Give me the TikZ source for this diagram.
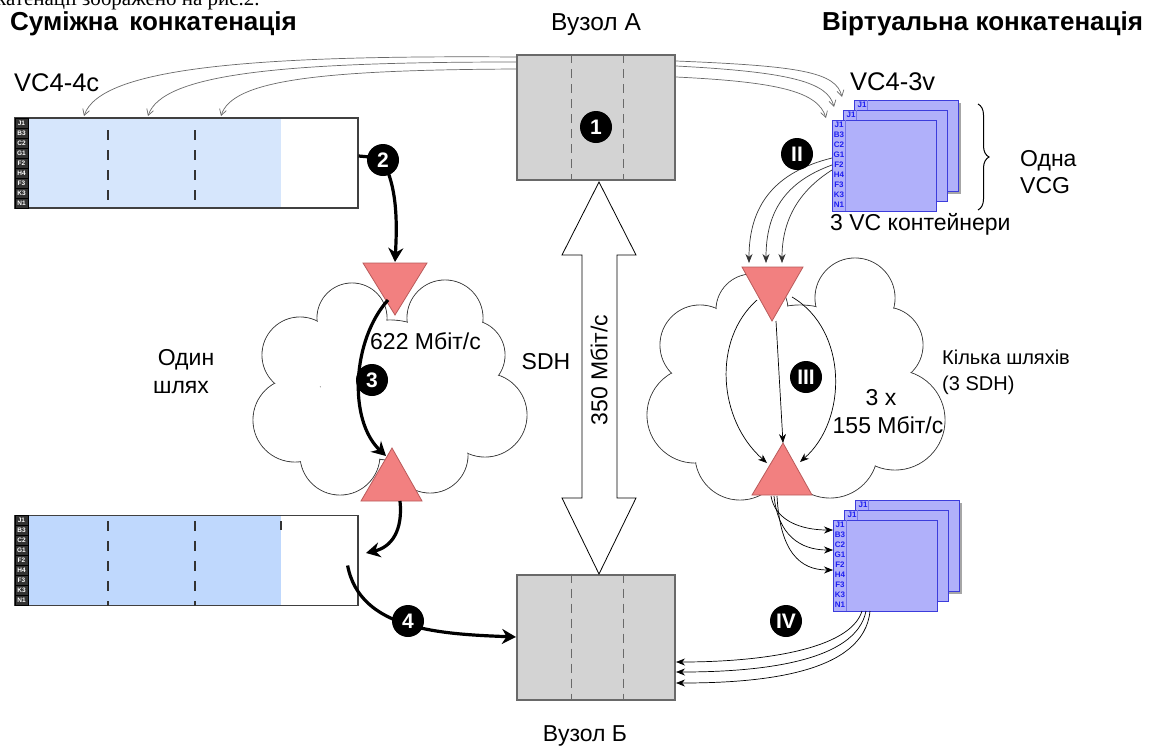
\documentclass[tikz,border=0pt]{standalone}
\usepackage{fontspec}
\setmainfont{Liberation Sans}
\newfontfamily\serifcut{Liberation Serif}
\usetikzlibrary{arrows.meta,decorations.pathreplacing,calc}

\definecolor{boxgray}{RGB}{211,211,211}
\definecolor{boxedge}{RGB}{105,105,105}
\definecolor{blueA}{RGB}{214,230,252}
\definecolor{blueB}{RGB}{191,216,253}
\definecolor{vcfill}{RGB}{176,176,250}
\definecolor{vcedge}{RGB}{60,60,220}
\definecolor{vctext}{RGB}{30,30,240}
\definecolor{tri}{RGB}{242,128,128}
\definecolor{triedge}{RGB}{185,90,90}
\definecolor{arrowgray}{RGB}{105,105,105}

\newcommand\vcstack[2]{%
 \begin{scope}[shift={(#1,#2)}]
  \fill[black!35] (25,-17) rectangle (129,74);
  \draw[vcedge,fill=vcfill,line width=0.8pt] (22,-20) rectangle (126,71);
  \draw[vcedge!70,line width=0.5pt] (35,-20) -- (35,71);
  \node[inner sep=0pt,text=vctext,font=\fontsize{8}{8}\selectfont\bfseries] at (30,-15) {J1};
  \draw[vcedge,fill=vcfill,line width=0.8pt] (11,-10) rectangle (115,81);
  \draw[vcedge!70,line width=0.5pt] (24,-10) -- (24,81);
  \node[inner sep=0pt,text=vctext,font=\fontsize{8}{8}\selectfont\bfseries] at (19,-5) {J1};
  \draw[vcedge,fill=vcfill,line width=0.8pt] (0,0) rectangle (104,91);
  \draw[vcedge!70,line width=0.5pt] (13,0) -- (13,91);
  \foreach \t [count=\i from 0] in {J1,B3,C2,G1,F2,H4,F3,K3,N1}
   {\node[inner sep=0pt,text=vctext,font=\fontsize{8}{8}\selectfont\bfseries] at (7,5+10*\i) {\t};}
 \end{scope}}

\newcommand\labelcol[2]{%
 \begin{scope}[shift={(#1,#2)}]
  \foreach \t [count=\i from 0] in {J1,B3,C2,G1,F2,H4,F3,K3,N1}
   {\draw[black,fill=black!80,line width=0.4pt] (0,10*\i) rectangle (13,10*\i+10);
    \node[inner sep=0pt,text=white,font=\fontsize{6.5}{6.5}\selectfont\bfseries] at (6.5,10*\i+5) {\t};}
 \end{scope}}

\begin{document}
\begin{tikzpicture}[x=1pt,y=-1pt,
  lbl/.style={inner sep=0pt, font=\fontsize{23}{26}\selectfont},
  biglbl/.style={inner sep=0pt, font=\fontsize{25.5}{28}\selectfont},
  smalllbl/.style={inner sep=0pt, font=\fontsize{20}{23}\selectfont},
  ttl/.style={inner sep=0pt, font=\fontsize{26}{29}\selectfont\bfseries},
  num/.style={circle, fill=black, text=white, inner sep=0pt, minimum size=32pt, font=\fontsize{21}{21}\selectfont\bfseries},
  nodebox/.style={draw=boxedge, fill=boxgray, line width=2pt, minimum width=158pt, minimum height=125pt, inner sep=0pt},
  sepline/.style={boxedge, line width=1pt, dash pattern=on 9pt off 6pt},
  blk/.style={draw=black!75, line width=1.2pt, minimum width=343pt, minimum height=90pt, inner sep=0pt},
  grayarrow/.style={arrowgray, line width=0.7pt, -{Straight Barb[length=6pt,width=7pt]}},
  blackarrow/.style={black, line width=0.8pt, -{Stealth[length=9pt,width=7pt]}},
  heavy/.style={black, line width=3.2pt, -{Stealth[length=14pt,width=15pt]}},
  cloudline/.style={draw=black!75, line width=0.9pt},
  tristyle/.style={fill=tri, draw=triedge, line width=0.8pt}
]
\useasboundingbox (0,0) rectangle (1150,747);
\fill[white] (0,0) rectangle (1150,747);

% cut-off text at top
\node[anchor=base west, inner sep=0pt, font=\serifcut\fontsize{21}{24}\selectfont] (cut) at (-4,5) {катенації зображено на рис.2.};

% titles
\node[ttl, anchor=base west] (tl) at (10,30) {Суміжна\hspace{4pt} конкатенація};
\node[ttl, anchor=base west] (tr) at (822,30) {Віртуальна конкатенація};
\node[lbl, anchor=base, font=\fontsize{24.5}{27}\selectfont] (la) at (596,30) {Вузол А};
\node[lbl, anchor=base] (lb) at (585,741) {Вузол Б};

% clouds
\def\leftcloud{352/318/35,445/318/38,300/355/38,295/420/42,340/455/40,430/455/38,485/415/42,470/355/35,390/390/70}
\def\rightcloud{752/310/36,855/298/40,700/345/40,695/415/48,740/455/45,830/450/48,895/420/50,885/345/38,800/385/80}
\foreach \cx/\cy/\r in \leftcloud {\draw[cloudline] (\cx,\cy) circle[radius=\r];}
\foreach \cx/\cy/\r in \leftcloud {\fill[white] (\cx,\cy) circle[radius=\r-0.6];}
\foreach \cx/\cy/\r in \rightcloud {\draw[cloudline] (\cx,\cy) circle[radius=\r];}
\foreach \cx/\cy/\r in \rightcloud {\fill[white] (\cx,\cy) circle[radius=\r-0.6];}

% node boxes
\node[nodebox] (A) at (596,117.5) {};
\node[nodebox] (B) at (596,637) {};
\foreach \n in {A,B}{
  \draw[sepline] ($(\n.north west)!0.348!(\n.north east)$) -- ($(\n.south west)!0.348!(\n.south east)$);
  \draw[sepline] ($(\n.north west)!0.67!(\n.north east)$) -- ($(\n.south west)!0.67!(\n.south east)$);
}

% double arrow SDH
\draw[fill=white, line width=0.8pt] (599,182) -- (636,255) -- (617,255) -- (617,498) -- (636,498) -- (599,574) -- (562,498) -- (582,498) -- (582,255) -- (562,255) -- cycle;
\node[lbl, rotate=90] (rate) at (599,370) {350 Мбіт/с};

% left blocks
\fill[blueA] (28,118) rectangle (281,208);
\node[blk] (vca) at (186.5,163) {};
\labelcol{15}{118}
\foreach \xx in {108,195}{\draw[black!80, line width=1.1pt, dash pattern=on 10pt off 10pt] (\xx,130) -- (\xx,208);}
\fill[blueB] (28,515) rectangle (281,606);
\node[blk] (vcb) at (186.5,560.5) {};
\labelcol{15}{515}
\foreach \xx in {108,195}{\draw[black!80, line width=1.1pt, dash pattern=on 10pt off 10pt] (\xx,521) -- (\xx,606);}
\draw[black!80, line width=1.1pt] (281,521) -- (281,530);

% VC stacks
\vcstack{832}{120}
\vcstack{833}{520}
\coordinate (stackTop) at (832,165);
\coordinate (stackBot) at (866,611);

% brace
\draw[black, line width=1pt, decorate, decoration={brace, amplitude=11pt}] (978,104) -- (978,210);

% triangles
\coordinate (t1a) at (363,263); \coordinate (t1b) at (427,263); \coordinate (t1c) at (395,315);
\coordinate (t2a) at (392,448); \coordinate (t2b) at (361,501); \coordinate (t2c) at (422,501);
\coordinate (t3a) at (742,267); \coordinate (t3b) at (803,267); \coordinate (t3c) at (772,321);
\coordinate (t4a) at (783,443); \coordinate (t4b) at (752,495); \coordinate (t4c) at (812,495);
\filldraw[tristyle] (t1a) -- (t1b) -- (t1c) -- cycle;
\filldraw[tristyle] (t2a) -- (t2b) -- (t2c) -- cycle;
\filldraw[tristyle] (t3a) -- (t3b) -- (t3c) -- cycle;
\filldraw[tristyle] (t4a) -- (t4b) -- (t4c) -- cycle;

% gray arrows from node A
\draw[grayarrow] ($(A.north west)+(0,3)$) .. controls (250,55) and (100,68) .. (84,116);
\draw[grayarrow] ($(A.north west)+(0,8)$) .. controls (280,62) and (162,74) .. (148,116);
\draw[grayarrow] ($(A.north west)+(0,15)$) .. controls (320,70) and (232,80) .. (221,116);
\draw[grayarrow] ($(A.north east)+(0,7)$) .. controls (800,66) and (836,72) .. (842,97);
\draw[grayarrow] ($(A.north east)+(0,12)$) .. controls (790,72) and (828,82) .. (834,107);
\draw[grayarrow] ($(A.north east)+(0,23)$) .. controls (780,82) and (818,92) .. (826,118);

% II arrows
\draw[blackarrow, black!80, line width=0.7pt] ($(stackTop)+(0,-7)$) .. controls (775,172) and (749,205) .. (749,263);
\draw[blackarrow, black!80, line width=0.7pt] (stackTop) .. controls (785,182) and (766,212) .. (766,263);
\draw[blackarrow, black!80, line width=0.7pt] ($(stackTop)+(0,5)$) .. controls (797,192) and (782,222) .. (782,263);

% III arrows
\draw[blackarrow, line width=0.7pt] (776,321) -- (t4a);
\draw[blackarrow, line width=0.7pt] (757,300) .. controls (712,340) and (718,420) .. (767,463);
\draw[blackarrow, line width=0.7pt] (792,297) .. controls (848,330) and (848,420) .. (800,462);

% arrows to bottom stack
\draw[blackarrow, line width=0.7pt] (771,496) .. controls (775,520) and (800,530) .. (833,530);
\draw[blackarrow, line width=0.7pt] (774,496) .. controls (778,535) and (800,550) .. (833,550);
\draw[blackarrow, line width=0.7pt] (777,496) .. controls (780,552) and (800,570) .. (833,570);

% IV arrows
\draw[blackarrow, line width=0.7pt] ($(stackBot)+(-4,0)$) .. controls (850,650) and (760,662) .. ($(B.east)+(0,25)$);
\draw[blackarrow, line width=0.7pt] (stackBot) .. controls (856,662) and (760,672) .. ($(B.east)+(0,35)$);
\draw[blackarrow, line width=0.7pt] ($(stackBot)+(4,0)$) .. controls (864,674) and (760,683) .. ($(B.east)+(0,46)$);

% heavy arrows
\draw[heavy] ($(vca.east)+(0,-7)$) -- (381,158) .. controls (398,185) and (397,225) .. (395,262);
\draw[heavy] (388,300) .. controls (352,340) and (348,420) .. (386,456);
\draw[heavy] (400,501) .. controls (403,530) and (392,547) .. (366,553);
\draw[heavy] ($(vcb.east)+(-11,5)$) .. controls (360,630) and (440,634) .. (B.west);

% numbered circles
\node[num] (n1) at (596,127) {1};
\node[num] (n2) at (383,160) {2};
\node[num] (n3) at (372,380) {3};
\node[num] (n4) at (408,621) {4};
\node[num] (r2) at (797,154) {II};
\node[num] (r3) at (806,377) {III};
\node[num] (r4) at (786,621) {IV};

% labels
\node[biglbl, anchor=base west] (vc4c) at (14,91) {VC4-4c};
\node[biglbl, anchor=base west] (vc3v) at (850,90) {VC4-3v};
\node[lbl, anchor=base west] (vcc) at (830,230) {3 VC контейнери};
\node[lbl, anchor=base west] (vcg) at (1020,166) {Одна};
\node[lbl, anchor=base west] (vcg2) at (1020,193) {VCG};
\node[lbl, anchor=base west] (r622) at (370,349) {622 Мбіт/с};
\node[lbl, anchor=base] (sdh) at (546,369) {SDH};
\node[lbl, anchor=base] (one1) at (186,365) {Один};
\node[lbl, anchor=base] (one2) at (181,393) {шлях};
\node[smalllbl, anchor=base west] (many1) at (942,364) {Кілька шляхів};
\node[smalllbl, anchor=base west] (many2) at (942,390) {(3 SDH)};
\node[lbl, anchor=base] (x3) at (881,405) {3 x};
\node[lbl, anchor=base] (r155) at (888,433) {155 Мбіт/с};
\end{tikzpicture}
\end{document}
